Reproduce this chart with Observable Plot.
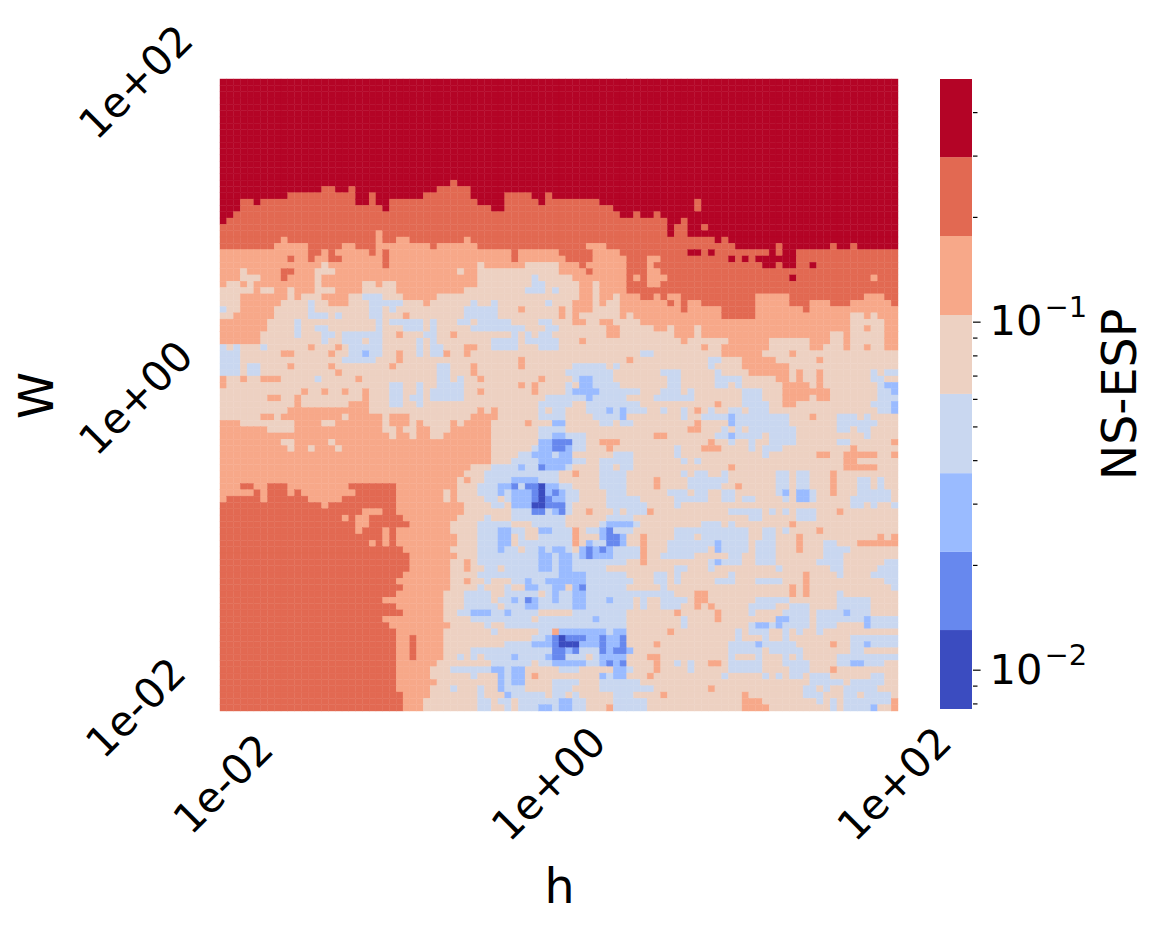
<!DOCTYPE html>
<html>
<head>
<meta charset="utf-8">
<script src="https://cdn.jsdelivr.net/npm/d3@7"></script>
<script src="https://cdn.jsdelivr.net/npm/@observablehq/plot@0.6"></script>
<style>
html,body{margin:0;padding:0;background:#fff}
#chart{position:relative;width:1163px;height:931px}
#chart svg{position:absolute;left:0;top:0;background:transparent}
</style>
</head>
<body>
<div id="chart"></div>
<script>
// Colour bins, darkest blue (0) to darkest red (7)
const levelColors = ["#3b4cc0","#6788ee","#9abbff","#c9d7f0","#edd1c2","#f7a889","#e26952","#b40426"];
// NS-ESP values at the edges of the eight bins
const binEdges = [0.00771,0.0130,0.0218,0.0367,0.0620,0.1045,0.1762,0.297,0.498];
const minorTicks = [0.008,0.009,0.02,0.03,0.04,0.05,0.06,0.07,0.08,0.09,0.2,0.3,0.4];
const majorTicks = [0.01,0.1];
const majorBase = ["10","10"];
const majorExp = ["\u22122","\u22121"];
const xTickCols = [0,48,99];
const yTickRows = [0,50,99];
const xTickLabels = ["1e-02","1e+00","1e+02"];
const yTickLabels = ["1e+02","1e+00","1e-02"];
// One string per row (top to bottom): bin:endColumn runs
const rowRuns = [
"7:100","7:100","7:100","7:100","7:100","7:100","7:100","7:100",
"7:100","7:100","7:100","7:100","7:100","7:100","7:100","7:100",
"7:34 6:35 7:100",
"7:15 6:17 7:19 6:20 7:32 6:37 7:100",
"7:10 6:20 7:22 6:23 7:30 6:37 7:42 6:46 7:48 6:49 7:100",
"7:3 6:5 7:6 6:20 7:22 6:23 7:25 6:38 7:42 6:47 7:48 6:56 7:70 6:71 7:100",
"7:3 6:24 7:25 6:40 7:42 6:58 7:70 6:71 7:100",
"7:2 6:59 7:61 6:62 7:64 6:65 7:100",
"7:1 6:66 7:68 6:69 7:100",
"6:66 7:67 6:69 7:71 6:72 7:100",
"6:23 5:24 6:66 7:67 6:69 7:100",
"6:9 5:10 6:23 5:24 6:26 5:28 6:36 5:37 6:73 7:74 6:75 7:100",
"6:8 5:13 6:18 5:20 6:23 5:31 6:32 5:38 6:54 5:57 6:76 7:82 6:83 7:90 6:91 7:93 6:94 7:100",
"5:13 6:15 5:16 6:17 5:22 6:23 5:24 6:25 5:43 6:44 5:50 6:55 5:59 6:69 7:71 6:72 7:73 6:81 7:82 6:83 7:85 6:100",
"5:10 6:11 5:13 6:14 5:16 6:18 5:24 6:25 5:43 6:44 5:51 6:55 5:60 6:63 5:65 6:75 7:76 6:77 7:78 6:79 7:85 6:100",
"5:15 4:16 5:24 6:25 5:38 4:39 5:45 4:50 5:53 6:54 5:60 6:63 5:64 6:80 7:82 6:83 7:85 6:87 7:88 6:100",
"5:3 4:4 5:9 6:11 5:14 4:17 5:35 4:36 5:38 4:50 5:54 6:55 5:60 6:63 5:65 6:100",
"5:3 4:6 5:9 6:10 5:14 4:15 5:38 4:46 3:47 4:52 5:60 6:61 5:62 6:63 5:66 6:84 7:85 6:96 5:97 6:100",
"5:1 4:3 5:4 4:5 5:14 4:15 5:21 4:23 5:24 4:26 5:38 4:46 3:48 4:53 5:55 4:56 5:60 6:63 5:65 6:100",
"4:5 5:6 4:8 5:10 4:11 5:14 4:17 5:21 4:26 5:36 4:45 3:48 4:49 3:50 4:53 5:55 4:56 5:60 6:100",
"4:3 5:10 4:11 5:12 4:15 5:19 4:21 3:24 4:27 5:32 4:53 5:55 4:56 5:58 4:59 5:62 6:64 5:65 6:66 5:68 6:79 5:84 6:95 5:98 6:100",
"4:3 5:9 4:13 3:14 4:16 5:19 4:22 3:27 4:30 5:31 4:37 3:38 4:40 3:41 4:48 3:49 4:52 5:55 4:56 5:57 4:59 5:66 6:67 5:68 6:69 5:71 6:79 5:84 6:87 5:90 6:93 5:99 6:100",
"3:1 4:3 5:8 4:13 3:14 4:22 3:24 4:25 3:26 4:36 3:41 4:44 5:45 4:50 5:51 4:52 5:55 4:59 5:68 6:69 5:74 6:79 5:86 6:87 5:100",
"4:2 5:8 4:13 3:16 4:17 3:18 4:22 3:24 4:27 5:28 4:36 3:41 4:50 5:51 4:52 5:53 4:59 5:60 4:61 5:74 6:79 5:93 4:95 5:96 4:97 5:100",
"5:7 4:11 3:12 4:23 3:24 4:25 3:30 4:31 3:32 4:35 3:37 4:38 3:43 4:47 3:49 4:52 5:54 4:56 5:58 4:62 5:93 4:98 5:100",
"5:7 4:11 3:12 4:14 3:16 4:23 3:24 4:27 3:30 4:31 3:32 4:37 3:45 4:48 3:50 4:57 5:59 4:64 5:66 4:67 5:70 4:71 5:93 4:95 5:96 4:98 5:100",
"5:6 4:11 3:12 4:15 3:17 4:18 3:24 4:26 5:27 4:30 3:32 4:34 5:35 4:43 3:44 4:45 3:46 4:47 3:49 4:57 5:59 4:67 5:70 4:71 5:90 4:92 5:93 4:98 5:100",
"5:6 4:15 3:16 4:18 3:21 4:22 3:24 4:29 3:30 4:31 3:32 4:40 3:44 4:45 3:50 4:53 5:54 4:68 5:69 4:75 5:81 4:87 5:90 4:92 5:93 4:98 5:100",
"3:1 4:2 3:3 4:6 3:7 4:13 5:14 4:17 5:18 4:19 3:24 4:29 3:30 4:31 3:33 4:36 5:38 4:40 3:44 4:47 3:50 4:71 5:72 4:74 5:81 4:87 5:89 4:92 5:93 4:95 5:96 4:98 5:100",
"3:3 4:9 5:11 4:16 5:17 4:19 3:21 2:22 3:24 4:26 5:27 4:29 3:30 4:31 3:33 5:34 4:36 5:37 4:62 3:64 4:74 5:80 4:84 5:85 4:100",
"3:3 4:18 3:23 4:26 5:27 4:44 5:45 4:60 5:61 4:72 3:74 4:77 5:82 4:88 5:89 4:100",
"3:3 4:4 3:6 4:10 5:11 4:16 5:17 4:25 5:26 4:32 3:34 4:37 5:38 4:44 5:45 4:52 3:57 4:58 3:59 4:72 3:73 4:77 5:84 4:100",
"3:3 4:4 3:6 4:17 5:18 4:32 3:34 4:37 5:38 4:51 3:58 4:65 3:68 4:73 3:74 4:78 5:84 4:85 5:86 4:88 5:89 4:96 3:97 4:98 3:100",
"5:1 4:3 5:4 4:6 5:9 4:14 3:15 4:20 5:21 4:32 3:34 4:35 3:36 4:38 5:39 4:47 5:48 4:52 3:53 2:55 3:58 4:66 3:68 4:73 3:77 4:82 5:84 4:85 5:86 4:88 5:89 4:96 3:98 4:100",
"5:1 4:25 3:27 4:29 3:30 4:32 3:36 4:44 5:45 4:46 5:47 4:51 3:52 4:53 2:55 3:59 4:66 3:68 4:73 3:75 4:76 3:77 4:83 5:87 4:88 5:89 4:97 3:98 2:100",
"4:12 5:13 4:15 5:16 4:18 5:19 4:21 5:22 4:25 3:27 4:29 3:30 4:31 3:36 4:38 5:39 4:46 5:47 4:51 3:52 2:56 3:62 4:65 3:68 4:69 3:70 4:77 3:80 4:83 5:90 4:97 3:99 2:100",
"4:7 5:9 4:11 5:12 4:21 5:22 4:25 3:27 4:28 3:30 4:31 3:36 4:48 3:54 2:55 3:60 4:64 3:70 4:77 3:80 4:83 5:87 4:88 5:90 4:97 3:100",
"4:11 5:12 4:19 5:22 4:25 3:27 4:29 3:30 4:47 3:52 4:54 3:62 4:73 5:74 4:77 3:81 4:83 5:85 4:96 3:99 2:100",
"4:10 5:22 4:38 5:39 4:40 5:41 4:47 3:48 4:49 3:51 4:54 3:57 2:58 3:59 2:60 3:63 4:65 3:66 4:68 3:69 4:70 5:71 4:72 3:73 4:75 3:77 4:78 3:81 4:97 3:99 2:100",
"4:6 5:8 4:9 5:18 4:19 5:24 4:25 5:28 4:37 5:41 4:47 3:51 4:55 3:59 2:60 4:68 3:69 4:71 3:75 2:76 3:84 4:87 5:88 4:91 3:94 4:95 3:96 4:100",
"5:3 4:11 5:15 4:17 5:24 4:25 5:28 4:29 5:30 4:34 5:35 4:36 5:40 4:45 5:46 4:49 2:51 4:56 3:58 4:59 3:61 4:70 5:71 4:75 2:76 3:84 4:91 3:97 4:100",
"5:7 4:11 5:24 4:26 5:27 4:29 5:31 4:34 5:40 4:47 3:51 4:69 5:71 4:74 3:75 4:76 3:77 4:78 3:85 4:91 3:93 4:94 3:96 4:100",
"5:25 4:26 5:28 4:29 5:31 4:33 5:40 4:47 3:49 2:51 3:54 4:64 5:66 4:73 3:75 2:76 3:80 4:81 3:85 4:95 3:96 4:100",
"5:9 4:11 5:16 4:17 5:40 4:47 2:49 1:52 3:54 4:56 5:59 4:72 5:73 4:75 3:76 4:78 3:79 4:81 3:85 4:91 3:93 4:99 5:100",
"5:10 4:11 5:13 4:14 5:17 4:18 5:40 4:46 3:47 2:49 1:51 2:52 3:54 4:57 5:58 4:67 3:68 4:71 5:74 4:78 3:79 4:80 3:83 4:93 5:94 4:100",
"5:40 4:44 3:46 2:49 3:50 2:52 4:58 3:61 4:67 3:68 4:80 3:81 4:88 5:90 4:92 5:97 4:99 5:100",
"5:40 4:43 3:47 2:52 3:54 4:56 3:61 4:68 3:69 4:70 3:71 4:92 5:94 4:100",
"5:37 4:40 3:44 2:45 3:47 1:48 2:51 3:52 4:56 3:58 4:59 3:61 4:75 5:76 4:92 5:97 4:100",
"5:36 4:39 3:50 4:52 5:53 4:56 3:60 4:68 3:69 4:70 3:72 4:74 3:75 4:82 3:84 4:85 3:87 4:90 5:91 4:100",
"5:35 4:36 5:37 4:39 3:43 2:47 3:50 4:56 3:60 4:64 5:65 4:69 3:75 4:82 3:84 4:85 3:87 4:90 5:91 4:94 3:96 4:97 3:98 4:100",
"5:3 6:5 5:7 6:10 5:19 6:26 5:35 4:38 3:41 2:43 1:44 3:45 1:47 0:48 2:50 3:52 4:56 3:60 4:64 5:65 4:69 3:74 4:76 5:77 4:82 3:84 4:85 3:87 4:90 5:91 4:94 3:96 4:97 3:98 4:100",
"5:5 6:6 5:7 6:10 5:11 6:12 5:20 6:26 5:33 4:34 5:35 4:38 3:41 2:42 3:43 2:46 1:47 0:48 2:49 1:50 2:51 3:53 4:57 3:60 4:66 3:69 4:70 3:72 4:74 3:76 4:82 3:83 2:84 4:85 2:87 3:88 4:90 5:91 4:94 3:99 4:100",
"5:1 6:6 5:7 6:13 5:18 6:26 5:33 4:34 5:35 4:39 3:41 4:42 3:43 2:46 1:47 0:48 1:49 2:51 3:53 4:57 3:62 4:67 3:72 4:74 3:76 4:77 3:79 4:83 3:84 4:85 2:87 3:88 4:93 3:99 4:100",
"6:15 5:16 6:26 5:36 4:40 3:42 4:43 2:46 0:48 1:51 3:52 4:57 3:63 4:67 3:68 4:93 3:95 4:96 3:97 4:99 3:100",
"6:21 5:24 6:26 5:36 4:43 3:46 1:48 3:49 2:50 1:51 3:52 4:54 5:55 4:58 3:59 4:60 3:63 5:64 4:75 3:80 4:81 3:82 4:83 3:84 4:85 3:88 4:91 5:92 4:100",
"6:18 5:19 6:20 5:22 6:27 5:35 4:39 3:40 4:43 3:51 4:57 3:61 4:78 3:80 4:85 3:88 4:100",
"6:20 5:22 6:28 5:34 4:38 3:43 4:46 3:51 4:56 3:57 2:61 3:62 4:71 3:74 4:75 3:76 4:84 5:85 4:100",
"6:20 5:21 6:24 5:25 6:26 5:34 4:38 3:41 2:43 3:45 4:47 2:49 3:52 5:53 4:54 3:56 2:57 1:58 3:61 4:67 3:78 4:80 3:82 4:83 3:84 4:88 5:89 4:100",
"6:24 5:25 6:26 5:35 4:38 3:41 2:43 4:44 3:45 4:47 3:52 5:53 4:56 2:57 1:59 2:60 4:62 5:63 4:67 3:70 4:71 3:78 4:80 3:82 4:85 5:86 4:97 5:98 4:99 5:100",
"6:22 5:23 6:24 5:25 6:26 5:35 4:38 3:41 2:43 4:44 3:52 5:53 4:54 2:55 3:57 1:59 2:60 4:62 5:63 4:66 3:73 2:74 3:78 4:79 3:82 4:85 5:86 4:89 3:91 4:94 5:100",
"6:27 5:34 4:38 3:41 2:42 3:44 4:45 3:47 2:48 3:49 2:51 3:52 4:53 2:54 1:55 2:56 1:57 2:58 3:62 5:63 4:66 3:72 4:73 2:74 3:78 4:79 3:82 4:85 5:86 4:89 3:93 4:100",
"6:28 5:35 4:38 3:47 2:49 3:50 2:52 3:53 2:54 1:55 2:58 3:62 5:63 4:65 3:70 4:75 3:77 4:79 3:82 4:89 3:92 4:100",
"6:28 5:34 4:36 5:37 4:38 3:47 2:49 3:50 2:52 3:60 4:62 5:63 4:72 3:73 2:74 3:77 4:79 3:82 4:88 3:92 4:98 3:100",
"6:28 5:34 4:36 5:37 4:39 3:41 4:42 3:47 2:49 3:50 2:52 3:57 4:67 3:69 4:72 3:73 4:82 3:83 4:90 3:92 4:97 3:100",
"6:27 5:34 4:38 3:50 2:54 3:60 4:64 3:66 4:67 3:68 4:75 3:76 4:86 5:87 4:91 3:92 4:96 3:100",
"6:26 5:34 4:36 5:37 4:39 3:40 4:43 3:45 2:46 3:48 2:54 3:61 4:64 3:66 4:67 3:68 4:73 3:76 4:79 3:83 4:86 5:87 4:98 3:100",
"6:27 5:34 4:38 3:39 4:42 3:43 4:45 2:47 3:49 2:51 4:52 2:53 1:54 3:60 4:65 3:66 4:84 5:85 4:86 5:87 4:99 3:100",
"6:26 5:33 4:36 3:40 4:42 3:47 4:48 3:49 2:50 3:52 2:54 3:67 4:70 5:72 4:84 5:85 4:86 5:87 4:91 3:92 4:100",
"6:24 5:33 4:36 3:40 4:41 3:43 2:44 3:45 1:46 2:47 3:49 2:50 3:52 2:54 3:57 2:58 3:61 4:62 3:63 4:65 3:69 4:70 5:72 4:79 3:84 4:91 3:96 4:100",
"6:26 5:33 4:36 3:41 4:42 3:45 2:47 3:52 2:54 3:61 4:62 3:63 4:65 3:68 4:70 5:71 4:72 5:73 4:78 3:82 4:84 3:87 4:91 3:96 4:100",
"6:27 5:33 4:35 3:37 2:40 3:42 2:43 3:47 4:52 3:60 4:67 5:68 4:73 5:74 4:78 3:79 4:83 3:87 4:88 3:92 2:93 3:96 4:100",
"6:24 5:33 4:37 3:46 4:47 3:55 2:56 3:60 4:68 3:69 4:73 5:74 4:82 2:84 3:87 4:88 3:95 2:96 3:100",
"6:25 5:34 4:39 3:40 4:42 3:60 4:68 3:69 4:78 3:79 2:81 3:82 2:83 3:87 4:88 3:91 4:95 2:96 3:100",
"6:26 5:33 4:40 3:41 4:47 3:49 5:50 2:57 3:58 2:60 4:66 5:67 4:76 3:77 4:78 3:81 4:83 3:84 4:85 3:86 4:88 3:89 4:100",
"6:26 5:28 6:29 5:33 4:46 3:48 2:49 1:50 0:51 1:54 2:56 1:57 2:59 1:60 4:76 3:77 4:80 3:81 4:83 3:84 4:93 3:100",
"6:26 5:28 6:29 5:33 4:42 3:46 2:49 1:50 0:53 2:56 1:57 2:59 1:60 4:64 5:65 4:75 3:79 2:80 3:85 4:90 5:91 4:93 3:95 2:96 3:100",
"6:26 5:28 6:29 5:33 4:37 3:49 1:51 2:52 1:53 3:56 1:57 2:58 1:60 2:61 4:75 3:80 4:81 3:86 4:93 3:95 4:100",
"6:26 5:28 6:29 5:33 4:35 3:36 4:37 3:38 4:39 3:43 2:44 3:48 2:49 1:51 3:54 4:55 3:56 2:60 4:63 5:65 4:75 3:76 4:79 3:80 4:83 3:84 4:85 3:86 4:91 3:100",
"6:26 5:32 4:40 3:46 4:47 3:49 2:54 3:56 2:57 1:58 2:59 1:60 4:64 5:65 4:67 3:68 4:69 3:70 4:72 5:74 4:75 3:80 4:83 3:87 4:91 3:93 2:95 3:98 4:100",
"6:26 5:31 4:34 3:40 2:42 3:43 2:45 4:50 3:53 4:58 2:60 3:61 4:64 5:65 4:69 3:70 4:75 3:80 4:84 3:87 4:90 5:91 4:100",
"6:26 5:31 4:37 3:38 4:41 2:42 3:43 2:45 4:46 5:47 4:56 2:57 3:58 2:60 4:63 5:64 4:74 3:75 4:80 3:81 4:82 3:83 4:84 3:86 4:87 3:90 4:96 3:98 4:100",
"6:26 5:32 4:41 2:42 3:43 2:45 4:49 3:53 4:56 3:62 4:87 3:92 4:93 3:98 4:100",
"6:26 5:31 4:34 3:35 4:38 3:39 4:41 2:42 3:45 4:49 3:52 4:56 3:64 4:72 5:73 4:86 3:88 4:89 3:90 4:92 3:97 4:100",
"6:27 5:31 4:38 3:39 4:42 2:43 3:48 4:49 3:51 4:52 3:53 4:58 3:61 4:65 5:66 4:77 5:78 4:86 3:89 4:92 3:94 4:95 3:99 4:100",
"6:27 5:30 4:38 3:40 4:41 3:43 4:44 3:50 2:52 3:54 4:58 3:63 4:77 5:80 4:88 3:89 4:90 3:91 4:92 3:99 5:100",
"6:27 5:30 4:38 3:40 4:42 3:43 4:44 3:47 2:49 3:50 2:52 3:54 4:57 5:58 3:63 4:77 5:81 4:90 3:91 4:92 3:96 2:97 4:99 5:100"
];

const cells = [];
rowRuns.forEach((runs, row) => {
  let col = 0;
  for (const run of runs.split(" ")) {
    const [level, end] = run.split(":").map(Number);
    for (; col < end; col++) cells.push({col, row, level});
  }
});
const font = "'DejaVu Sans', sans-serif";
const levels = d3.range(levelColors.length);

const heatmap = Plot.plot({
  width: 1163, height: 931,
  marginLeft: 220, marginRight: 265, marginTop: 79, marginBottom: 220,
  style: {fontFamily: font, background: "transparent"},
  x: {type: "band", domain: d3.range(100), padding: 0},
  y: {type: "band", domain: d3.range(100), padding: 0},
  color: {type: "ordinal", domain: levels, range: levelColors},
  marks: [
    Plot.cell(cells, {x: "col", y: "row", fill: "level", inset: 0, stroke: "level", strokeWidth: 0.4}),
    Plot.axisX({ticks: xTickCols, tickFormat: d => xTickLabels[xTickCols.indexOf(d)],
      tickRotate: -45, tickSize: 0, tickPadding: 0, label: null, fontSize: 41.6,
      textAnchor: "middle", lineAnchor: "middle", dy: 73, fill: "black", anchor: "bottom"}),
    Plot.axisY({ticks: yTickRows, tickFormat: d => yTickLabels[yTickRows.indexOf(d)],
      tickRotate: -45, tickSize: 0, tickPadding: 0, label: null, fontSize: 41.6,
      textAnchor: "middle", lineAnchor: "middle", dx: -84, fill: "black", anchor: "left"}),
    Plot.text(["h"], {frameAnchor: "bottom", dy: 176, fontSize: 47.5, fill: "black", lineAnchor: "middle"}),
    Plot.text(["W"], {frameAnchor: "left", dx: -183, rotate: -90, fontSize: 47.5, fill: "black", textAnchor: "middle"})
  ]
});

const colorbar = Plot.plot({
  width: 1163, height: 931,
  marginLeft: 940, marginRight: 191, marginTop: 79, marginBottom: 222,
  style: {fontFamily: font, background: "transparent"},
  y: {type: "log", domain: [binEdges[0], binEdges[binEdges.length - 1]]},
  marks: [
    Plot.rect(levels, {y1: i => binEdges[i], y2: i => binEdges[i + 1], fill: i => levelColors[i]}),
    Plot.axisY({anchor: "right", ticks: minorTicks, tickFormat: () => "", tickSize: 4.5, label: null, strokeWidth: 1.2}),
    Plot.axisY({anchor: "right", ticks: majorTicks, tickFormat: () => "", tickSize: 7.6, label: null, strokeWidth: 1.2}),
    Plot.text(majorTicks, {y: d => d, text: (d, i) => majorBase[i], frameAnchor: "right", dx: 17, textAnchor: "start", fontSize: 41.6, fill: "black"}),
    Plot.text(majorTicks, {y: d => d, text: (d, i) => majorExp[i], frameAnchor: "right", dx: 72, dy: -14, textAnchor: "start", fontSize: 29, fill: "black"}),
    Plot.text(["NS-ESP"], {frameAnchor: "right", dx: 148, rotate: -90, fontSize: 47.5, fill: "black", textAnchor: "middle"})
  ]
});
const host = document.getElementById("chart");
host.append(heatmap, colorbar);
</script>
</body>
</html>
